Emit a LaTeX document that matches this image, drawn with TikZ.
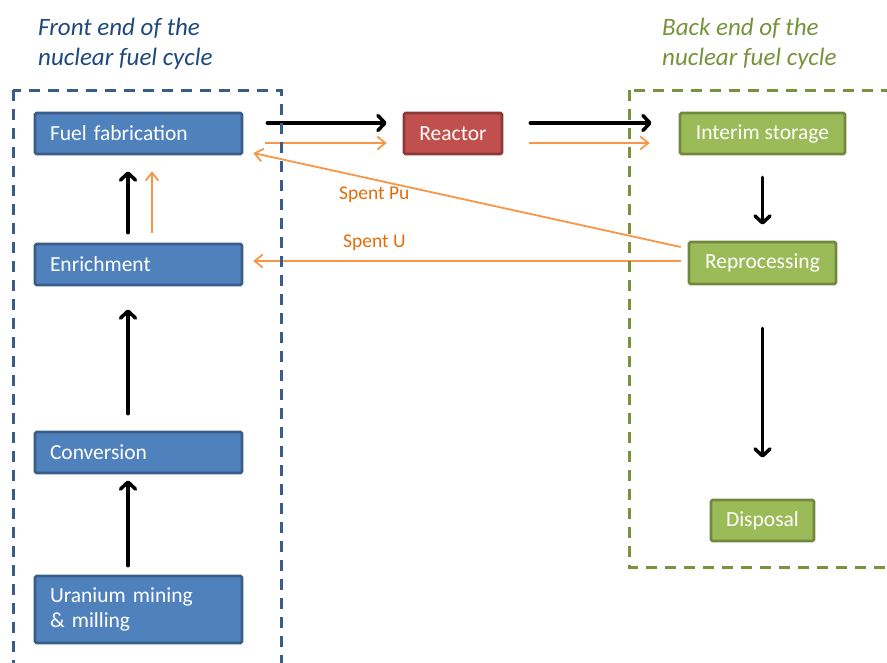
\documentclass[tikz,border=0pt]{standalone}
\usepackage{fontspec}
\setmainfont{Carlito}
\usetikzlibrary{arrows.meta}
\definecolor{bfill}{HTML}{4F81BD}
\definecolor{bdraw}{HTML}{385D8A}
\definecolor{rfill}{HTML}{C0504D}
\definecolor{rdraw}{HTML}{8C3836}
\definecolor{gfill}{HTML}{9BBB59}
\definecolor{gdraw}{HTML}{71893F}
\definecolor{orl}{HTML}{F79646}
\definecolor{ort}{HTML}{E46C0A}
\definecolor{ttlblue}{HTML}{1F497D}
\definecolor{dblue}{HTML}{385D8A}
\definecolor{ttlgreen}{HTML}{77933C}
\tikzset{
  box/.style={draw, line width=2.6pt, rounded corners=1.5pt, text=white,
    font=\fontsize{21.5}{25.5}\selectfont, minimum height=41pt, inner ysep=0pt},
  bbox/.style={box, fill=bfill, draw=bdraw, text width=177pt, align=left,
    minimum width=207pt, inner xsep=15pt},
  rbox/.style={box, fill=rfill, draw=rdraw, align=center, inner xsep=0pt},
  gbox/.style={box, fill=gfill, draw=gdraw, align=center, inner xsep=0pt},
  blk/.style={line width=3.5pt, draw=black, line cap=round,
    -{Straight Barb[round,length=7pt,width=15pt]}},
  org/.style={line width=1.8pt, draw=orl,
    -{Straight Barb[length=8pt,width=13pt]}},
  ttl/.style={font=\itshape\fontsize{25}{31}\selectfont, anchor=base west, inner sep=0pt},
  lbl/.style={font=\fontsize{19.5}{22}\selectfont, text=ort, inner sep=0pt},
  fdash/.style={draw=dblue, line width=3pt, dash pattern=on 11pt off 8pt},
  bdash/.style={draw=ttlgreen, line width=3pt, dash pattern=on 11pt off 8pt}
}
\begin{document}
\begin{tikzpicture}[x=1pt,y=-1pt]
\useasboundingbox (0,0) rectangle (887,662);
\clip (0,0) rectangle (887,662);
% titles
\node[ttl, text=ttlblue] (ft1) at (38,35) {Front end of the};
\node[ttl, text=ttlblue] (ft2) at (38,65) {nuclear fuel cycle};
\node[ttl, text=ttlgreen] (bt1) at (662,35) {Back end of the};
\node[ttl, text=ttlgreen] (bt2) at (662,65) {nuclear fuel cycle};
% boxes
\node[bbox] (fab) at (138.5,133.5) {Fuel fabrication};
\node[bbox] (enr) at (138.5,264.5) {Enrichment};
\node[bbox] (conv) at (138.5,452.5) {Conversion};
\node[bbox, minimum height=67pt] (ura) at (138.5,609.5) {Uranium mining\\\& milling};
\node[rbox, minimum width=98pt] (reac) at (453,133.5) {Reactor};
\node[gbox, minimum width=165pt] (int) at (762.5,133.5) {Interim storage};
\node[gbox, minimum width=147pt, minimum height=42pt] (rep) at (762.5,263) {Reprocessing};
\node[gbox, minimum width=103pt] (disp) at (762.5,520.5) {Disposal};
% horizontal arrows
\draw[blk] ([xshift=24pt,yshift=10.5pt]fab.east) -- ([xshift=-16pt,yshift=10.5pt]reac.west);
\draw[org] ([xshift=22pt,yshift=-9.5pt]fab.east) -- ([xshift=-16pt,yshift=-9.5pt]reac.west);
\draw[blk] ([xshift=27pt,yshift=10.5pt]reac.east) -- ([xshift=-27pt,yshift=10.5pt]int.west);
\draw[org] ([xshift=26pt,yshift=-9.5pt]reac.east) -- ([xshift=-29pt,yshift=-9.5pt]int.west);
% vertical arrows front end
\draw[blk] ([xshift=-10.5pt,yshift=10pt]enr.north) -- ([xshift=-10.5pt,yshift=-16pt]fab.south);
\draw[org] ([xshift=13.5pt,yshift=10pt]enr.north) -- ([xshift=13.5pt,yshift=-16pt]fab.south);
\draw[blk] ([xshift=-10.5pt,yshift=17pt]conv.north) -- ([xshift=-10.5pt,yshift=-23pt]enr.south);
\draw[blk] ([xshift=-10.5pt,yshift=9pt]ura.north) -- ([xshift=-10.5pt,yshift=-6pt]conv.south);
% back end arrows
\draw[blk] ([yshift=-22pt]int.south) -- ([yshift=16pt]rep.north);
\draw[blk] ([yshift=-43pt]rep.south) -- ([yshift=41pt]disp.north);
% recycle
\draw[org] ([xshift=-7pt,yshift=16pt]rep.west) -- ([xshift=10pt,yshift=-19.5pt]fab.east);
\draw[org] ([xshift=-7pt,yshift=2pt]rep.west) -- ([xshift=10pt,yshift=3.5pt]enr.east);
\node[lbl, anchor=west] (pu) at (339,195) {Spent Pu};
\node[lbl, anchor=west] (su) at (343,243) {Spent U};
% dashed regions
\draw[fdash] (13,90) rectangle (281,700);
\draw[bdash] (629,90) rectangle (920,567);
\end{tikzpicture}
\end{document}
